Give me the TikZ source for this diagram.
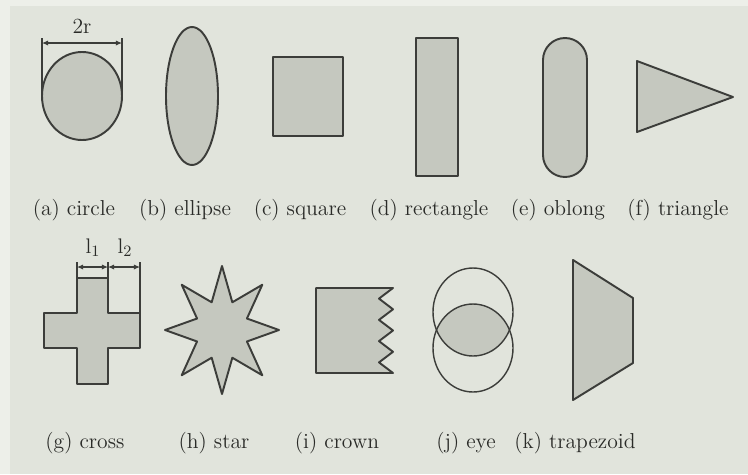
\documentclass[tikz,border=0pt]{standalone}
\usetikzlibrary{arrows.meta}
\definecolor{panelbg}{HTML}{E1E4DC}
\definecolor{framebg}{HTML}{EDEFE9}
\definecolor{shapegray}{HTML}{C5C8BF}
\definecolor{inkgray}{HTML}{3C3D3A}
\definecolor{textgray}{HTML}{2A2B28}

\begin{document}
\begin{tikzpicture}[x=0.02cm, y=-0.02cm,
    shapebox/.style={draw=inkgray, fill=shapegray, line width=1.1pt, line join=round},
    eyeline/.style={draw=inkgray, line width=0.8pt},
    caption/.style={font=\fontsize{12.3}{14}\selectfont, text=textgray, inner sep=0pt, anchor=base},
    dimarrow/.style={{Latex[length=3.5pt,width=3pt]}-{Latex[length=3.5pt,width=3pt]}, draw=inkgray, line width=0.6pt},
    extline/.style={draw=inkgray, line width=0.6pt},
]
\useasboundingbox (0,0) rectangle (748,474);
\fill[framebg] (0,0) rectangle (748,474);
\fill[panelbg] (10,6) rectangle (748,474);

% first row
\draw[shapebox] (82,96) ellipse [x radius=40, y radius=44];
\draw[shapebox] (192,96) ellipse [x radius=26, y radius=69];
\draw[shapebox] (273,57) rectangle (343,136);
\draw[shapebox] (416,38) rectangle (458,176);
\draw[shapebox, rounded corners=0.44cm] (543,38) rectangle (587,177);
\draw[shapebox] (637,61) -- (733,97) -- (637,132) -- cycle;

% diameter
\coordinate (circ-l) at (42,43);
\coordinate (circ-r) at (122,43);
\draw[extline] (42,38) -- (42,92);
\draw[extline] (122,38) -- (122,92);
\draw[dimarrow] (circ-l) -- (circ-r);
\node[caption] (diam) at (82,33) {2r};

\node[caption] (cap-a) at (74,215) {(a) circle};
\node[caption] (cap-b) at (185,215) {(b) ellipse};
\node[caption] (cap-c) at (300,215) {(c) square};
\node[caption] (cap-d) at (429,215) {(d) rectangle};
\node[caption] (cap-e) at (558,215) {(e) oblong};
\node[caption] (cap-f) at (678,215) {(f) triangle};

% second row
\draw[shapebox] (77,278) -- (108,278) -- (108,313) -- (140,313) -- (140,348)
  -- (108,348) -- (108,384) -- (77,384) -- (77,348) -- (44,348) -- (44,313)
  -- (77,313) -- cycle;

\coordinate (arm-a) at (77,267);
\coordinate (arm-b) at (108,267);
\coordinate (arm-c) at (140,267);
\draw[extline] (77,262) -- (77,278);
\draw[extline] (108,262) -- (108,278);
\draw[extline] (140,262) -- (140,313);
\draw[dimarrow] (arm-a) -- (arm-b);
\draw[dimarrow] (arm-b) -- (arm-c);
\node[caption] (len-1) at (93,253) {$\mathrm{l}_1$};
\node[caption] (len-2) at (125,253) {$\mathrm{l}_2$};

\begin{scope}[shift={(222,330)}]
  \draw[shapebox] (90:57 and 64)
    \foreach \k in {0,...,7} { -- ({112.5+45*\k}:27 and 30) -- ({135+45*\k}:57 and 64) } -- cycle;
\end{scope}

\draw[shapebox] (316,288) -- (393,288) -- (379,298.6) -- (393,309.3) -- (379,319.9)
  -- (393,330.5) -- (379,341.1) -- (393,351.8) -- (379,362.4) -- (393,373)
  -- (316,373) -- cycle;

\begin{scope}
  \clip (473,312) ellipse [x radius=40, y radius=44];
  \fill[shapegray] (473,348) ellipse [x radius=40, y radius=44];
\end{scope}
\draw[eyeline] (473,312) ellipse [x radius=40, y radius=44];
\draw[eyeline] (473,348) ellipse [x radius=40, y radius=44];

\draw[shapebox] (573,260) -- (633,298) -- (633,363) -- (573,400) -- cycle;

\node[caption] (cap-g) at (85,448) {(g) cross};
\node[caption] (cap-h) at (214,448) {(h) star};
\node[caption] (cap-i) at (337,448) {(i) crown};
\node[caption] (cap-j) at (466,448) {(j) eye};
\node[caption] (cap-k) at (575,448) {(k) trapezoid};
\end{tikzpicture}
\end{document}
